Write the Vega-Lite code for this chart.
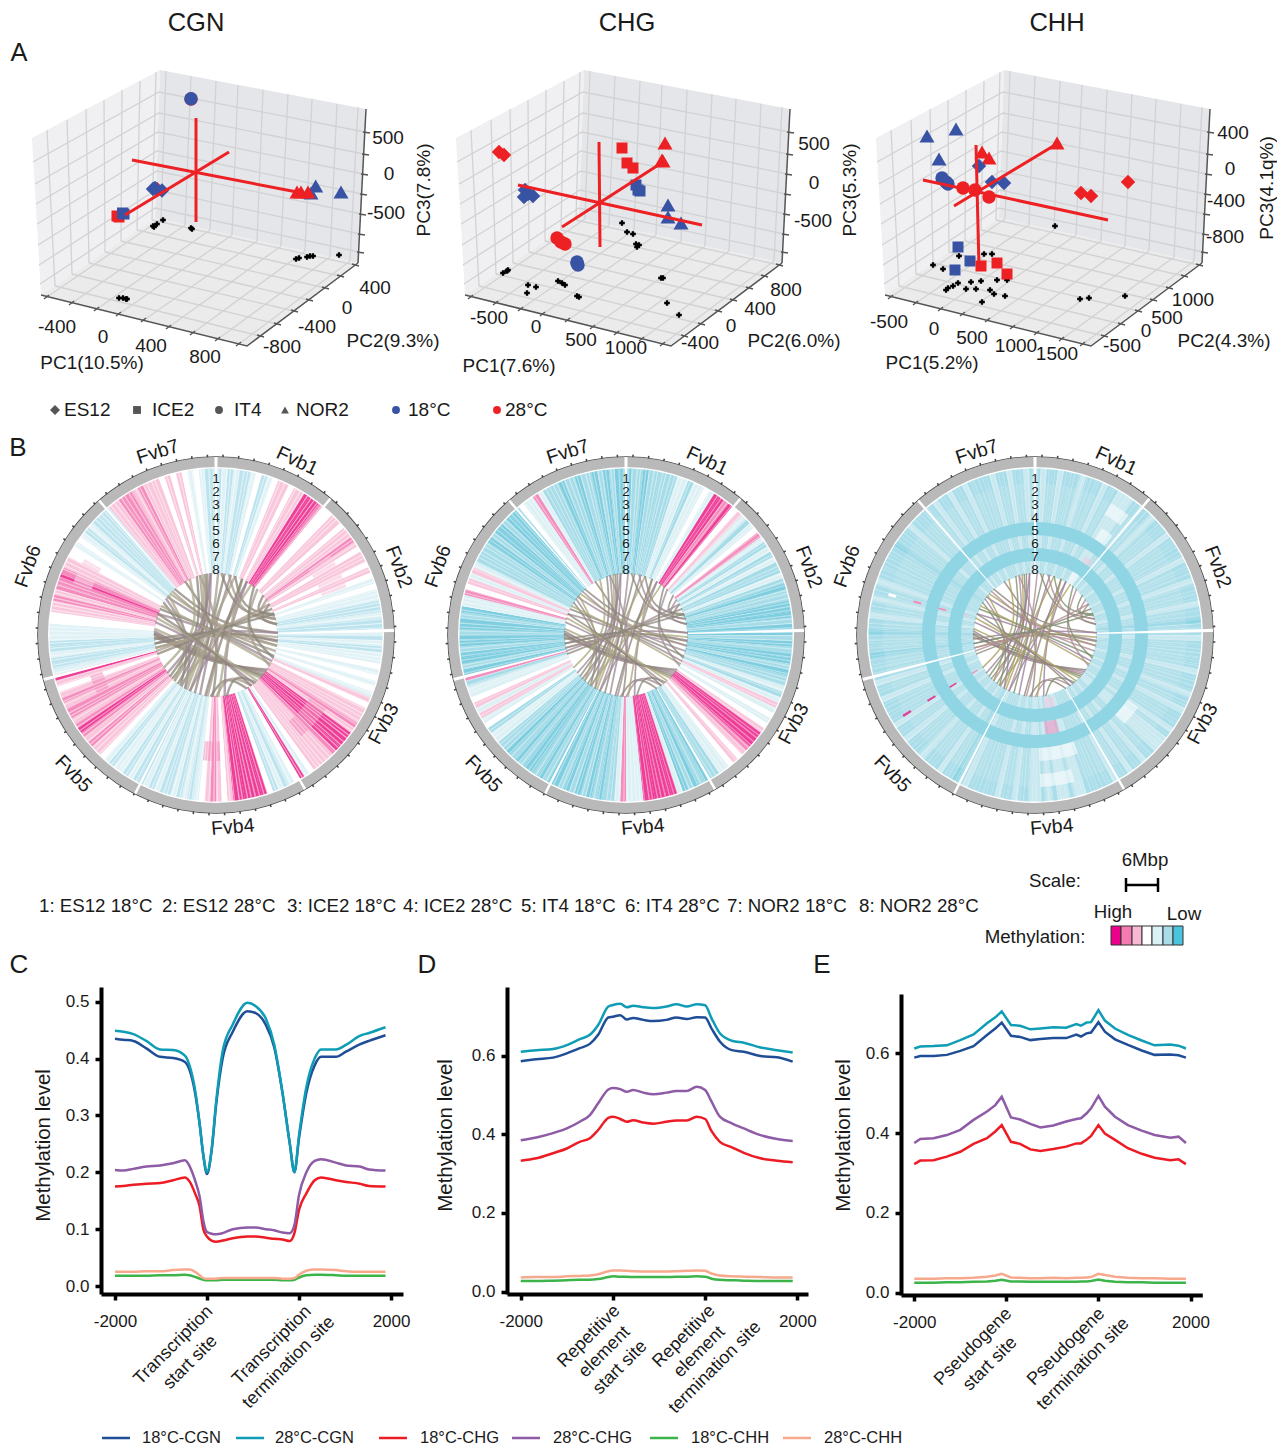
{"$schema":"https://vega.github.io/schema/vega-lite/v6.json","padding":0,"background":"white","config":{"view":{"stroke":null},"font":"Liberation Sans","text":{"font":"Liberation Sans","color":"#1a1a1a"}},
"columns":6,"align":"each","bounds":"flush","spacing":0,"center":false,
"resolve":{"scale":{"color":"independent","stroke":"independent","size":"independent","shape":"independent"}},
"datasets":{
"wl":[{"x":[32,160,155,41],"y":[138,70,218,295]}],
"wr":[{"x":[160,366,358,155],"y":[70,109,263,218]}],
"fl":[{"x":[41,155,358,247],"y":[295,218,263,346]}],
"grid":[{"g":1,"x":[47,55],"y":[130,286]},{"g":2,"x":[67,72],"y":[120,274]},{"g":3,"x":[86,89],"y":[109,263]},{"g":4,"x":[104,105],"y":[100,252]},{"g":5,"x":[122,121],"y":[90,241]},{"g":6,"x":[140,137],"y":[81,230]},{"g":7,"x":[156,152],"y":[72,220]},{"g":8,"x":[166,161],"y":[71,219]},{"g":9,"x":[191,185],"y":[76,225]},{"g":10,"x":[216,210],"y":[81,230]},{"g":11,"x":[238,232],"y":[85,235]},{"g":12,"x":[263,257],"y":[90,241]},{"g":13,"x":[288,281],"y":[94,246]},{"g":14,"x":[312,305],"y":[99,251]},{"g":15,"x":[337,330],"y":[104,257]},{"g":16,"x":[358,350],"y":[107,261]},{"g":17,"x":[40,155,359],"y":[284,208,252]},{"g":18,"x":[39,156,360],"y":[265,190,234]},{"g":19,"x":[38,157,361],"y":[245,171,214]},{"g":20,"x":[37,157,362],"y":[224,151,194]},{"g":21,"x":[36,158,363],"y":[204,132,174]},{"g":22,"x":[35,159,364],"y":[184,113,154]},{"g":23,"x":[33,159,365],"y":[162,92,132]},{"g":24,"x":[161,47],"y":[219,297]},{"g":25,"x":[185,72],"y":[225,303]},{"g":26,"x":[210,97],"y":[230,309]},{"g":27,"x":[232,119],"y":[235,314]},{"g":28,"x":[257,144],"y":[241,320]},{"g":29,"x":[281,169],"y":[246,327]},{"g":30,"x":[305,193],"y":[251,333]},{"g":31,"x":[330,218],"y":[257,339]},{"g":32,"x":[350,239],"y":[261,344]},{"g":33,"x":[55,260],"y":[286,336]},{"g":34,"x":[72,277],"y":[274,324]},{"g":35,"x":[89,294],"y":[263,311]},{"g":36,"x":[105,309],"y":[252,300]},{"g":37,"x":[121,325],"y":[241,288]},{"g":38,"x":[137,340],"y":[230,276]},{"g":39,"x":[152,355],"y":[220,265]}],
"ax":[{"g":1,"x":[41,247,358],"y":[295,346,263]},{"g":2,"x":[358,366],"y":[263,109]},{"g":3,"x":[44,49],"y":[299,295]},{"g":4,"x":[69,74],"y":[305,301]},{"g":5,"x":[94,99],"y":[311,307]},{"g":6,"x":[116,121],"y":[316,312]},{"g":7,"x":[141,146],"y":[322,318]},{"g":8,"x":[166,171],"y":[329,325]},{"g":9,"x":[190,195],"y":[335,331]},{"g":10,"x":[215,220],"y":[341,337]},{"g":11,"x":[236,241],"y":[346,342]},{"g":12,"x":[257,264],"y":[335,337]},{"g":13,"x":[274,281],"y":[323,325]},{"g":14,"x":[291,298],"y":[310,312]},{"g":15,"x":[306,313],"y":[299,301]},{"g":16,"x":[322,329],"y":[287,289]},{"g":17,"x":[337,344],"y":[275,277]},{"g":18,"x":[352,359],"y":[264,266]},{"g":19,"x":[357,364],"y":[252,253]},{"g":20,"x":[358,365],"y":[234,235]},{"g":21,"x":[359,366],"y":[214,215]},{"g":22,"x":[360,367],"y":[194,195]},{"g":23,"x":[361,368],"y":[174,175]},{"g":24,"x":[362,369],"y":[154,155]},{"g":25,"x":[363,370],"y":[132,133]}],
"sp":[{"a":0,"p":-2,"q":-3,"r":-2},{"a":2,"p":-1,"q":-2,"r":-1},{"a":4,"p":-2,"q":-2,"r":-2},{"a":6,"p":-1,"q":-3,"r":-2},{"a":8,"p":-2,"q":-2,"r":-1},{"a":10,"p":-2,"q":-2,"r":-2},{"a":12,"p":-1,"q":-2,"r":-2},{"a":14,"p":0,"q":-2,"r":-2},{"a":16,"p":-2,"q":-2,"r":-1},{"a":18,"p":-1,"q":-1,"r":-2},
{"a":20,"p":0,"q":-1,"r":-2},{"a":22,"p":1,"q":-2,"r":-2},{"a":24,"p":1,"q":-1,"r":-1},{"a":26,"p":0,"q":-1,"r":-2},{"a":28,"p":1,"q":0,"r":-2},{"a":30,"p":1,"q":-1,"r":-1},{"a":32,"p":3,"q":3,"r":-1},{"a":34,"p":3,"q":3,"r":-1},{"a":36,"p":3,"q":2,"r":-2},{"a":38,"p":2,"q":3,"r":-2},
{"a":40,"p":0,"q":0,"r":-2},{"a":42,"p":0,"q":1,"r":-2},{"a":44,"p":1,"q":-1,"r":-1},{"a":46,"p":1,"q":-2,"r":-2},{"a":48,"p":0,"q":-1,"r":-2},{"a":50,"p":1,"q":0,"r":-2},{"a":52,"p":1,"q":2,"r":-1},{"a":54,"p":2,"q":-1,"r":-2},{"a":56,"p":1,"q":-2,"r":-2},{"a":58,"p":0,"q":-1,"r":-2},
{"a":60,"p":1,"q":-2,"r":-2},{"a":62,"p":1,"q":-1,"r":-1},{"a":64,"p":0,"q":-2,"r":-2},{"a":66,"p":1,"q":-2,"r":-2},{"a":68,"p":0,"q":-1,"r":-2},{"a":70,"p":-1,"q":-2,"r":-1},{"a":72,"p":0,"q":-3,"r":-2},{"a":74,"p":-1,"q":-2,"r":-2},{"a":76,"p":-1,"q":-2,"r":-2},{"a":78,"p":-2,"q":-3,"r":-1},
{"a":80,"p":-2,"q":-3,"r":-2},{"a":82,"p":-1,"q":-3,"r":-2},{"a":84,"p":-2,"q":-2,"r":-3},{"a":86,"p":-2,"q":-3,"r":-2},{"a":88,"p":-1,"q":-3,"r":-2},{"a":90,"p":-2,"q":-2,"r":-1},{"a":92,"p":-1,"q":-3,"r":-2},{"a":94,"p":-2,"q":-2,"r":-2},{"a":96,"p":-1,"q":-3,"r":-2},{"a":98,"p":-1,"q":-3,"r":-2},
{"a":100,"p":0,"q":-2,"r":-2},{"a":102,"p":-1,"q":-3,"r":-1},{"a":104,"p":0,"q":-2,"r":-2},{"a":106,"p":-1,"q":-2,"r":-2},{"a":108,"p":0,"q":-1,"r":-2},{"a":110,"p":-1,"q":-2,"r":-1},{"a":112,"p":1,"q":-1,"r":-2},{"a":114,"p":0,"q":1,"r":-2},{"a":116,"p":1,"q":-1,"r":-1},{"a":118,"p":1,"q":0,"r":-2},
{"a":120,"p":1,"q":-1,"r":-2},{"a":122,"p":2,"q":0,"r":-2},{"a":124,"p":1,"q":1,"r":-1},{"a":126,"p":3,"q":3,"r":-2},{"a":128,"p":3,"q":3,"r":-1},{"a":130,"p":3,"q":3,"r":-1},{"a":132,"p":3,"q":2,"r":-1},{"a":134,"p":2,"q":1,"r":-2},{"a":136,"p":1,"q":0,"r":-2},{"a":138,"p":1,"q":1,"r":-1},
{"a":140,"p":1,"q":0,"r":-2},{"a":142,"p":1,"q":-1,"r":-2},{"a":144,"p":0,"q":-1,"r":-1},{"a":146,"p":-1,"q":-2,"r":-2},{"a":148,"p":3,"q":-2,"r":-2},{"a":150,"p":0,"q":-3,"r":-1},{"a":152,"p":-1,"q":-2,"r":-2},{"a":154,"p":-2,"q":-3,"r":-2},{"a":156,"p":-1,"q":-2,"r":-2},{"a":158,"p":-2,"q":-3,"r":-2},
{"a":160,"p":0,"q":-1,"r":-2},{"a":162,"p":3,"q":3,"r":-1},{"a":164,"p":3,"q":3,"r":-1},{"a":166,"p":3,"q":3,"r":-2},{"a":168,"p":3,"q":3,"r":-1},{"a":170,"p":3,"q":3,"r":-1},{"a":172,"p":3,"q":3,"r":-2},{"a":174,"p":1,"q":-1,"r":-1},{"a":176,"p":0,"q":-1,"r":-2},{"a":178,"p":1,"q":-1,"r":-1},
{"a":180,"p":2,"q":2,"r":-1},{"a":182,"p":1,"q":-1,"r":-2},{"a":184,"p":0,"q":-2,"r":-2},{"a":186,"p":-1,"q":-2,"r":-1},{"a":188,"p":-2,"q":-3,"r":-2},{"a":190,"p":-1,"q":-2,"r":-2},{"a":192,"p":-2,"q":-3,"r":-1},{"a":194,"p":-1,"q":-2,"r":-2},{"a":196,"p":-2,"q":-3,"r":-2},{"a":198,"p":-2,"q":-2,"r":-2},
{"a":200,"p":-1,"q":-3,"r":-2},{"a":202,"p":-2,"q":-2,"r":-2},{"a":204,"p":-1,"q":-3,"r":-1},{"a":206,"p":-2,"q":-3,"r":-2},{"a":208,"p":-2,"q":-2,"r":-3},{"a":210,"p":-1,"q":-3,"r":-2},{"a":212,"p":-2,"q":-2,"r":-2},{"a":214,"p":-1,"q":-3,"r":-1},{"a":216,"p":-1,"q":-3,"r":-2},{"a":218,"p":-2,"q":-2,"r":-2},
{"a":220,"p":-1,"q":-3,"r":-2},{"a":222,"p":0,"q":-2,"r":-1},{"a":224,"p":1,"q":-3,"r":-2},{"a":226,"p":1,"q":-2,"r":-2},{"a":228,"p":2,"q":-2,"r":-2},{"a":230,"p":1,"q":-1,"r":-1},{"a":232,"p":2,"q":-1,"r":-2},{"a":234,"p":3,"q":-2,"r":-2},{"a":236,"p":2,"q":0,"r":-1},{"a":238,"p":1,"q":-1,"r":-2},
{"a":240,"p":2,"q":1,"r":-2},{"a":242,"p":2,"q":-1,"r":-2},{"a":244,"p":1,"q":1,"r":-2},{"a":246,"p":2,"q":0,"r":-1},{"a":248,"p":1,"q":-1,"r":-2},{"a":250,"p":0,"q":-1,"r":-2},{"a":252,"p":1,"q":-2,"r":-1},{"a":254,"p":3,"q":2,"r":-2},{"a":256,"p":-1,"q":-3,"r":-2},{"a":258,"p":-2,"q":-2,"r":-2},
{"a":260,"p":-2,"q":-3,"r":-2},{"a":262,"p":-1,"q":-3,"r":-3},{"a":264,"p":-2,"q":-2,"r":-2},{"a":266,"p":-2,"q":-3,"r":-2},{"a":268,"p":-1,"q":-3,"r":-2},{"a":270,"p":-1,"q":-2,"r":-3},{"a":272,"p":-1,"q":-3,"r":-2},{"a":274,"p":0,"q":-3,"r":-2},{"a":276,"p":0,"q":-2,"r":-1},{"a":278,"p":1,"q":-3,"r":-2},
{"a":280,"p":1,"q":-1,"r":-2},{"a":282,"p":2,"q":-1,"r":-1},{"a":284,"p":1,"q":2,"r":-2},{"a":286,"p":2,"q":0,"r":-2},{"a":288,"p":2,"q":1,"r":-1},{"a":290,"p":3,"q":-1,"r":-2},{"a":292,"p":2,"q":1,"r":-2},{"a":294,"p":1,"q":-1,"r":-2},{"a":296,"p":1,"q":-2,"r":-2},{"a":298,"p":0,"q":-2,"r":-2},
{"a":300,"p":0,"q":-2,"r":-2},{"a":302,"p":-1,"q":-2,"r":-3},{"a":304,"p":0,"q":-3,"r":-2},{"a":306,"p":-1,"q":-2,"r":-2},{"a":308,"p":-2,"q":-3,"r":-2},{"a":310,"p":-1,"q":-3,"r":-1},{"a":312,"p":-2,"q":-2,"r":-2},{"a":314,"p":-2,"q":-3,"r":-2},{"a":316,"p":-2,"q":-3,"r":-2},{"a":318,"p":-2,"q":-3,"r":-2},
{"a":320,"p":1,"q":0,"r":-2},{"a":322,"p":1,"q":-1,"r":-1},{"a":324,"p":2,"q":-1,"r":-2},{"a":326,"p":2,"q":2,"r":-2},{"a":328,"p":2,"q":-1,"r":-1},{"a":330,"p":1,"q":-2,"r":-2},{"a":332,"p":2,"q":-2,"r":-2},{"a":334,"p":1,"q":-2,"r":-1},{"a":336,"p":1,"q":-3,"r":-2},{"a":338,"p":1,"q":-2,"r":-2},
{"a":340,"p":0,"q":-2,"r":-2},{"a":342,"p":1,"q":-3,"r":-2},{"a":344,"p":0,"q":-2,"r":-1},{"a":346,"p":1,"q":-2,"r":-2},{"a":348,"p":0,"q":-3,"r":-2},{"a":350,"p":-1,"q":-2,"r":-1},{"a":352,"p":0,"q":-3,"r":-2},{"a":354,"p":-1,"q":-2,"r":-2},{"a":356,"p":-2,"q":-3,"r":-1},{"a":358,"p":-2,"q":-3,"r":-2}],
"st":[{"a":[0.7,1.9,3.6,4.8,6.7,7.9,9.5,10.8,12.6,13.7,15.4,16.9,18.3,19.6,21.4,22.5,24.2,25.8,27.1,28.4,30.2,31.4,33.1,34.6,35.9,37.2,39,40.3,41.9,43.4,44.7,46,47.8,49,50.6,52.1,53.4,54.9,56.6,57.8,59.5,61,62.3,63.6,65.4,66.6,68.2,69.7,71.1,72.4,74.2,75.3,77,78.6,79.9,81.2,83,84.2,85.8,87.3,88.6,90,91.7,92.9,94.6,96.1,97.4,98.7,100.5,101.7,103.3,104.8,106.1,107.5,109.2,110.4,112.1,113.6,114.9,116.2,118,119.2,120.8,122.3,123.7,125,126.8,128,129.6,131.1,132.4,133.8,135.5,136.7,138.4,139.9,141.2,142.5,144.3,145.5,147.1,148.6,150,151.3,153,154.2,155.9,157.4,158.7,160,161.8,163,164.6,166.1,167.5,168.8,170.6,171.7,173.4,174.9,176.2,177.6,179.3,180.5,182.2,183.7,185,186.4,188.1,189.3,190.9,192.4,193.8,195.1,196.9,198.1,199.7,201.2,202.5,203.8,205.6,206.8,208.4,209.9,211.3,212.6,214.4,215.5,217.2,218.7,220,221.4,223.1,224.3,225.9,227.4,228.8,230.1,231.9,233.1,234.7,236.2,237.5,238.9,240.6,241.8,243.5,245,246.3,247.6,249.4,250.6,252.2,253.7,255.1,256.4,258.2,259.3,261,262.5,263.8,265.2,266.9,268.1,269.7,271.2,272.6,273.9,275.7,276.9,278.5,280,281.3,282.7,284.4,285.6,287.3,288.8,290.1,291.4,293.2,294.4,296,297.5,298.9,300.2,302,303.1,304.8,306.3,307.6,309,310.7,311.9,313.5,315,316.4,317.7,319.5,320.6,322.3,323.8,325.1,326.5,328.2,329.4,331,332.5,333.9,335.2,337,338.2,339.8,341.3,342.6,344,345.7,346.9,348.6,350.1,351.4,352.7,354.5,355.6,357.3,358.8]}],
"gaps":[{"a":359.5,"b":360},{"a":0,"b":0.5},{"a":39.6,"b":40.4},{"a":88,"b":89},{"a":149.6,"b":150.4},{"a":206.6,"b":207.4},{"a":255,"b":256},{"a":318.6,"b":319.4}],
"ring":[{"a":0,"b":360}],
"tk":[{"a":[2,7,12,17,22,27,32,37,42,47,52,57,62,67,72,77,82,87,92,97,102,107,112,117,122,127,132,137,142,147,152,157,162,167,172,177,182,187,192,197,202,207,212,217,222,227,232,237,242,247,252,257,262,267,272,277,282,287,292,297,302,307,312,317,322,327,332,337,342,347,352,357]}],
"labs":[{"t":"Fvb1","a":25,"e":-2.08},{"t":"Fvb2","a":69.6,"e":-2.31},{"t":"Fvb3","a":117.9,"e":-1.92},{"t":"Fvb4","a":175,"e":-2.15},{"t":"Fvb5","a":225.8,"e":-2.62},{"t":"Fvb6","a":290.1,"e":-2.69},{"t":"Fvb7","a":342.4,"e":-2.08}],
"nums":[{"t":"1","a":0,"e":0.69},{"t":"2","a":0,"e":1.69},{"t":"3","a":0,"e":2.69},{"t":"4","a":0,"e":3.69},{"t":"5","a":0,"e":4.69},{"t":"6","a":0,"e":5.69},{"t":"7","a":0,"e":6.69},{"t":"8","a":0,"e":7.69}],
"ch":[{"c":1,"k":0,"a":[268,199,130],"r":[62,24,62]},{"c":2,"k":1,"a":[270,199,128],"r":[62,26,62]},{"c":3,"k":2,"a":[272,202,132],"r":[62,22,62]},{"c":4,"k":3,"a":[274,200,126],"r":[62,28,62]},{"c":5,"k":4,"a":[276,205,134],"r":[62,20,62]},{"c":6,"k":0,"a":[271,198,124],"r":[62,30,62]},{"c":7,"k":1,"a":[345,283,222],"r":[62,10,62]},{"c":8,"k":2,"a":[350,284,218],"r":[62,8,62]},{"c":9,"k":3,"a":[355,285,214],"r":[62,6,62]},{"c":10,"k":4,"a":[348,279,210],"r":[62,10,62]},{"c":11,"k":0,"a":[352,288,225],"r":[62,8,62]},{"c":12,"k":1,"a":[2,290,205],"r":[62,4,62]},{"c":13,"k":2,"a":[8,284,200],"r":[62,6,62]},{"c":14,"k":3,"a":[14,284,195],"r":[62,4,62]},{"c":15,"k":4,"a":[18,293,208],"r":[62,8,62]},{"c":16,"k":0,"a":[5,40,75],"r":[62,30,62]},{"c":17,"k":1,"a":[12,46,80],"r":[62,32,62]},{"c":18,"k":2,"a":[18,45,72],"r":[62,36,62]},{"c":19,"k":3,"a":[308,20,95],"r":[62,6,62]},{"c":20,"k":4,"a":[312,26,100],"r":[62,8,62]},{"c":21,"k":0,"a":[318,23,88],"r":[62,10,62]},{"c":22,"k":1,"a":[315,30,105],"r":[62,4,62]},{"c":23,"k":2,"a":[302,258,215],"r":[62,24,62]},{"c":24,"k":3,"a":[306,258,210],"r":[62,22,62]},{"c":25,"k":4,"a":[310,266,222],"r":[62,24,62]},{"c":26,"k":0,"a":[60,70,80],"r":[62,44,62]},{"c":27,"k":1,"a":[55,65,75],"r":[62,44,62]},{"c":28,"k":2,"a":[50,60,70],"r":[62,44,62]},{"c":29,"k":3,"a":[88,355,262],"r":[62,6,62]},{"c":30,"k":4,"a":[92,357,258],"r":[62,4,62]},{"c":31,"k":0,"a":[96,1,266],"r":[62,6,62]},{"c":32,"k":1,"a":[100,358,255],"r":[62,6,62]},{"c":33,"k":2,"a":[110,22,295],"r":[62,4,62]},{"c":34,"k":3,"a":[115,23,290],"r":[62,4,62]},{"c":35,"k":4,"a":[118,28,298],"r":[62,2,62]},{"c":36,"k":0,"a":[150,167,185],"r":[62,40,62]},{"c":37,"k":1,"a":[145,162,180],"r":[62,40,62]},{"c":38,"k":2,"a":[140,155,170],"r":[62,42,62]},{"c":39,"k":3,"a":[172,100,30],"r":[62,10,62]},{"c":40,"k":4,"a":[178,100,25],"r":[62,12,62]},{"c":41,"k":0,"a":[183,75,330],"r":[62,6,62]},{"c":42,"k":1,"a":[188,85,345],"r":[62,8,62]},{"c":43,"k":2,"a":[228,285,342],"r":[62,14,62]},{"c":44,"k":3,"a":[232,293,355],"r":[62,12,62]},{"c":45,"k":4,"a":[238,286,335],"r":[62,16,62]},{"c":46,"k":0,"a":[252,338,65],"r":[62,4,62]},{"c":47,"k":1,"a":[258,339,60],"r":[62,2,62]},{"c":48,"k":2,"a":[262,346,70],"r":[62,4,62]},{"c":49,"k":3,"a":[30,118,205],"r":[62,3,62]},{"c":50,"k":4,"a":[35,125,215],"r":[62,2,62]},{"c":51,"k":0,"a":[25,108,190],"r":[62,6,62]},{"c":52,"k":1,"a":[42,81,120],"r":[62,26,62]},{"c":53,"k":2,"a":[38,75,112],"r":[62,28,62]},{"c":54,"k":3,"a":[282,212,142],"r":[62,14,62]},{"c":55,"k":4,"a":[286,212,138],"r":[62,14,62]},{"c":56,"k":0,"a":[290,217,145],"r":[62,14,62]}]
},
"concat":[
{"width":101,"height":425,"encoding":{"x":{"field":"x","type":"quantitative","scale":{"domain":[0,101]},"axis":null},"y":{"field":"y","type":"quantitative","scale":{"domain":[425,0]},"axis":null}},"layer":[
{"data":{"name":"wl"},"transform":[{"flatten":["x","y"]}],"mark":{"type":"line","fill":"#F0F0F2","stroke":null},"encoding":{"order":{"value":null}}},
{"data":{"name":"wr"},"transform":[{"flatten":["x","y"]}],"mark":{"type":"line","fill":"#E5E6E9","stroke":null},"encoding":{"order":{"value":null}}},
{"data":{"name":"fl"},"transform":[{"flatten":["x","y"]}],"mark":{"type":"line","fill":"#EBEBEC","stroke":null},"encoding":{"order":{"value":null}}},
{"data":{"name":"grid"},"transform":[{"flatten":["x","y"]}],"mark":{"type":"line","stroke":"#D2D2D4","strokeWidth":1.3},"encoding":{"detail":{"field":"g"},"order":{"value":null}}},
{"data":{"name":"ax"},"transform":[{"flatten":["x","y"]}],"mark":{"type":"line","stroke":"#555","strokeWidth":1.5},"encoding":{"detail":{"field":"g"},"order":{"value":null}}},
{"data":{"values":[{"x":153,"y":226,"g":"X","s":"k"},{"x":157,"y":224,"g":"X","s":"k"},{"x":163,"y":220,"g":"X","s":"k"},{"x":154,"y":227,"g":"X","s":"k"},{"x":191,"y":228,"g":"X","s":"k"},{"x":192,"y":229,"g":"X","s":"k"},{"x":119,"y":298,"g":"X","s":"k"},{"x":123,"y":298,"g":"X","s":"k"},{"x":126,"y":299,"g":"X","s":"k"},{"x":127,"y":299,"g":"X","s":"k"},{"x":296,"y":259,"g":"X","s":"k"},{"x":299,"y":258,"g":"X","s":"k"},{"x":307,"y":257,"g":"X","s":"k"},{"x":310,"y":256,"g":"X","s":"k"},{"x":313,"y":256,"g":"X","s":"k"},{"x":339,"y":255,"g":"X","s":"k"},
{"x":191,"y":99,"g":"IT4","s":"28"},{"x":157,"y":189,"g":"ES12","s":"28"},{"x":117,"y":216,"g":"ICE2","s":"28"},{"x":119,"y":217,"g":"ICE2","s":"28"},{"x":315.7,"y":186,"g":"NOR2","s":"18"},{"x":341,"y":192,"g":"NOR2","s":"18"},{"x":311,"y":193,"g":"NOR2","s":"18"},{"x":297,"y":192,"g":"NOR2","s":"28"},{"x":301,"y":192,"g":"NOR2","s":"28"},{"x":308,"y":192,"g":"NOR2","s":"28"},{"x":191,"y":98.7,"g":"IT4","s":"18"},{"x":162,"y":190.5,"g":"ES12","s":"18"},{"x":153,"y":189,"g":"ES12","s":"18"},{"x":155,"y":188,"g":"ES12","s":"18"},{"x":124,"y":214,"g":"ICE2","s":"18"},{"x":122.5,"y":213,"g":"ICE2","s":"18"}]},"mark":{"type":"point","filled":true,"opacity":1},"encoding":{"shape":{"field":"g","scale":{"domain":["ES12","ICE2","IT4","NOR2","X"],"range":["diamond","square","circle","triangle-up","cross"]},"legend":null},"size":{"field":"g","scale":{"type":"ordinal","domain":["ES12","ICE2","IT4","NOR2","X"],"range":[210,121,180,225,32]},"legend":null},"color":{"field":"s","scale":{"domain":["18","28","k","g"],"range":["#3953A4","#ED2024","#000000","#555555"]},"legend":null},"order":{"value":null}}},
{"data":{"values":[{"g":1,"x":[196,196],"y":[118,222]},{"g":2,"x":[132,297],"y":[160,192]},{"g":3,"x":[229,125],"y":[152,215]}]},"transform":[{"flatten":["x","y"]}],"mark":{"type":"line","stroke":"#ED2024","strokeWidth":3},"encoding":{"detail":{"field":"g"},"order":{"value":null}}},
{"data":{"values":[{"x":55,"y":410,"g":"ES12","s":"g"}]},"mark":{"type":"point","filled":true,"opacity":1,"size":100},"encoding":{"shape":{"field":"g","scale":{"domain":["ES12","ICE2","IT4","NOR2","X"],"range":["diamond","square","circle","triangle-up","cross"]},"legend":null},"color":{"field":"s","scale":{"domain":["18","28","k","g"],"range":["#3953A4","#ED2024","#000000","#555555"]},"legend":null}}},
{"data":{"values":[{"x":137,"y":410,"g":"ICE2","s":"g"},{"x":219,"y":410,"g":"IT4","s":"g"},{"x":285,"y":410,"g":"NOR2","s":"g"},{"x":396,"y":410,"g":"IT4","s":"18"},{"x":497,"y":410,"g":"IT4","s":"28"}]},"mark":{"type":"point","filled":true,"opacity":1,"size":62},"encoding":{"shape":{"field":"g","scale":{"domain":["ES12","ICE2","IT4","NOR2","X"],"range":["diamond","square","circle","triangle-up","cross"]},"legend":null},"color":{"field":"s","scale":{"domain":["18","28","k","g"],"range":["#3953A4","#ED2024","#000000","#555555"]},"legend":null}}},
{"data":{"values":[{"x":64,"y":410,"t":"ES12"},{"x":152,"y":410,"t":"ICE2"},{"x":234,"y":410,"t":"IT4"},{"x":296,"y":410,"t":"NOR2"},{"x":408,"y":410,"t":"18°C"},{"x":505,"y":410,"t":"28°C"}]},"mark":{"type":"text","fontSize":19,"align":"left","baseline":"middle"},"encoding":{"text":{"field":"t"}}},
{"data":{"values":[{"x":388,"y":138,"t":"500"},{"x":389,"y":174,"t":"0"},{"x":386,"y":213,"t":"-500"},{"x":57,"y":327,"t":"-400"},{"x":103,"y":337,"t":"0"},{"x":151,"y":346,"t":"400"},{"x":205,"y":357,"t":"800"},{"x":92,"y":363,"t":"PC1(10.5%)"},{"x":375,"y":288,"t":"400"},{"x":347,"y":308,"t":"0"},{"x":317,"y":327,"t":"-400"},{"x":282,"y":347,"t":"-800"},{"x":393,"y":341,"t":"PC2(9.3%)"}]},"mark":{"type":"text","fontSize":19,"align":"center","baseline":"middle"},"encoding":{"text":{"field":"t"}}},
{"data":{"values":[{"x":424,"y":190,"t":"PC3(7.8%)"}]},"mark":{"type":"text","fontSize":19,"angle":270,"align":"center","baseline":"middle"},"encoding":{"text":{"field":"t"}}},
{"data":{"values":[{"x":196,"y":23,"t":"CGN"},{"x":19,"y":53,"t":"A"}]},"mark":{"type":"text","fontSize":25.5,"align":"center","baseline":"middle"},"encoding":{"text":{"field":"t"}}}
]},
{"width":1,"height":1,"data":{"values":[]},"mark":"point"},
{"width":104,"height":425,"encoding":{"x":{"field":"x","type":"quantitative","scale":{"domain":[0,104],"range":[21,125]},"axis":null},"y":{"field":"y","type":"quantitative","scale":{"domain":[425,0]},"axis":null}},"layer":[
{"data":{"name":"wl"},"transform":[{"flatten":["x","y"]}],"mark":{"type":"line","fill":"#F0F0F2","stroke":null},"encoding":{"order":{"value":null}}},
{"data":{"name":"wr"},"transform":[{"flatten":["x","y"]}],"mark":{"type":"line","fill":"#E5E6E9","stroke":null},"encoding":{"order":{"value":null}}},
{"data":{"name":"fl"},"transform":[{"flatten":["x","y"]}],"mark":{"type":"line","fill":"#EBEBEC","stroke":null},"encoding":{"order":{"value":null}}},
{"data":{"name":"grid"},"transform":[{"flatten":["x","y"]}],"mark":{"type":"line","stroke":"#D2D2D4","strokeWidth":1.3},"encoding":{"detail":{"field":"g"},"order":{"value":null}}},
{"data":{"name":"ax"},"transform":[{"flatten":["x","y"]}],"mark":{"type":"line","stroke":"#555","strokeWidth":1.5},"encoding":{"detail":{"field":"g"},"order":{"value":null}}},
{"data":{"values":[{"x":198,"y":223,"g":"X","s":"k"},{"x":203,"y":232,"g":"X","s":"k"},{"x":209,"y":234,"g":"X","s":"k"},{"x":212,"y":244,"g":"X","s":"k"},{"x":215,"y":245,"g":"X","s":"k"},{"x":213,"y":247,"g":"X","s":"k"},{"x":79,"y":273,"g":"X","s":"k"},{"x":83,"y":271,"g":"X","s":"k"},{"x":84,"y":270,"g":"X","s":"k"},{"x":104,"y":285,"g":"X","s":"k"},{"x":112,"y":287,"g":"X","s":"k"},{"x":103,"y":293,"g":"X","s":"k"},{"x":134,"y":281,"g":"X","s":"k"},{"x":138,"y":283,"g":"X","s":"k"},{"x":141,"y":285,"g":"X","s":"k"},{"x":153,"y":296,"g":"X","s":"k"},{"x":155,"y":297,"g":"X","s":"k"},{"x":237,"y":278,"g":"X","s":"k"},{"x":239,"y":278,"g":"X","s":"k"},{"x":243,"y":303,"g":"X","s":"k"},{"x":255,"y":315,"g":"X","s":"k"},
{"x":75,"y":152,"g":"ES12","s":"28"},{"x":80,"y":155,"g":"ES12","s":"28"},{"x":101,"y":190,"g":"ES12","s":"18"},{"x":100,"y":197,"g":"ES12","s":"18"},{"x":109,"y":196,"g":"ES12","s":"18"},{"x":104,"y":194,"g":"ES12","s":"18"},{"x":133,"y":238,"g":"IT4","s":"28"},{"x":137,"y":242,"g":"IT4","s":"28"},{"x":141,"y":244,"g":"IT4","s":"28"},{"x":153,"y":262,"g":"IT4","s":"18"},{"x":154,"y":265,"g":"IT4","s":"18"},{"x":153,"y":263,"g":"IT4","s":"18"},{"x":198,"y":148,"g":"ICE2","s":"28"},{"x":203,"y":163,"g":"ICE2","s":"28"},{"x":209,"y":168,"g":"ICE2","s":"28"},{"x":212,"y":185,"g":"ICE2","s":"18"},{"x":214,"y":190,"g":"ICE2","s":"18"},{"x":216,"y":191,"g":"ICE2","s":"18"},{"x":241,"y":143,"g":"NOR2","s":"28"},{"x":238,"y":160,"g":"NOR2","s":"28"},{"x":239,"y":161,"g":"NOR2","s":"28"},{"x":244,"y":205,"g":"NOR2","s":"18"},{"x":244,"y":217,"g":"NOR2","s":"18"},{"x":257,"y":223,"g":"NOR2","s":"18"}]},"mark":{"type":"point","filled":true,"opacity":1},"encoding":{"shape":{"field":"g","scale":{"domain":["ES12","ICE2","IT4","NOR2","X"],"range":["diamond","square","circle","triangle-up","cross"]},"legend":null},"size":{"field":"g","scale":{"type":"ordinal","domain":["ES12","ICE2","IT4","NOR2","X"],"range":[210,121,180,225,32]},"legend":null},"color":{"field":"s","scale":{"domain":["18","28","k","g"],"range":["#3953A4","#ED2024","#000000","#555555"]},"legend":null},"order":{"value":null}}},
{"data":{"values":[{"g":1,"x":[175,176],"y":[142,247]},{"g":2,"x":[94,278],"y":[185,225]},{"g":3,"x":[138,239],"y":[227,162]}]},"transform":[{"flatten":["x","y"]}],"mark":{"type":"line","stroke":"#ED2024","strokeWidth":3},"encoding":{"detail":{"field":"g"},"order":{"value":null}}},
{"data":{"values":[{"x":390,"y":144,"t":"500"},{"x":390,"y":183,"t":"0"},{"x":389,"y":221,"t":"-500"},{"x":65,"y":318,"t":"-500"},{"x":112,"y":327,"t":"0"},{"x":157,"y":340,"t":"500"},{"x":202,"y":348,"t":"1000"},{"x":85,"y":366,"t":"PC1(7.6%)"},{"x":362,"y":290,"t":"800"},{"x":336,"y":309,"t":"400"},{"x":307,"y":326,"t":"0"},{"x":276,"y":343,"t":"-400"},{"x":370,"y":341,"t":"PC2(6.0%)"}]},"mark":{"type":"text","fontSize":19,"align":"center","baseline":"middle"},"encoding":{"text":{"field":"t"}}},
{"data":{"values":[{"x":426,"y":190,"t":"PC3(5.3%)"}]},"mark":{"type":"text","fontSize":19,"angle":270,"align":"center","baseline":"middle"},"encoding":{"text":{"field":"t"}}},
{"data":{"values":[{"x":203,"y":23,"t":"CHG"}]},"mark":{"type":"text","fontSize":25.5,"align":"center","baseline":"middle"},"encoding":{"text":{"field":"t"}}}
]},
{"width":1,"height":1,"data":{"values":[]},"mark":"point"},
{"width":92.7,"height":425,"encoding":{"x":{"field":"x","type":"quantitative","scale":{"domain":[0,92.7],"range":[36,128.7]},"axis":null},"y":{"field":"y","type":"quantitative","scale":{"domain":[425,0]},"axis":null}},"layer":[
{"data":{"name":"wl"},"transform":[{"flatten":["x","y"]}],"mark":{"type":"line","fill":"#F0F0F2","stroke":null},"encoding":{"order":{"value":null}}},
{"data":{"name":"wr"},"transform":[{"flatten":["x","y"]}],"mark":{"type":"line","fill":"#E5E6E9","stroke":null},"encoding":{"order":{"value":null}}},
{"data":{"name":"fl"},"transform":[{"flatten":["x","y"]}],"mark":{"type":"line","fill":"#EBEBEC","stroke":null},"encoding":{"order":{"value":null}}},
{"data":{"name":"grid"},"transform":[{"flatten":["x","y"]}],"mark":{"type":"line","stroke":"#D2D2D4","strokeWidth":1.3},"encoding":{"detail":{"field":"g"},"order":{"value":null}}},
{"data":{"name":"ax"},"transform":[{"flatten":["x","y"]}],"mark":{"type":"line","stroke":"#555","strokeWidth":1.5},"encoding":{"detail":{"field":"g"},"order":{"value":null}}},
{"data":{"values":[{"x":211,"y":226,"g":"X","s":"k"},{"x":140,"y":254,"g":"X","s":"k"},{"x":148,"y":254,"g":"X","s":"k"},{"x":115,"y":256,"g":"X","s":"k"},{"x":89,"y":265,"g":"X","s":"k"},{"x":99,"y":269,"g":"X","s":"k"},{"x":137,"y":281,"g":"X","s":"k"},{"x":153,"y":280,"g":"X","s":"k"},{"x":163,"y":280,"g":"X","s":"k"},{"x":127,"y":282,"g":"X","s":"k"},{"x":114,"y":283,"g":"X","s":"k"},{"x":109,"y":286,"g":"X","s":"k"},{"x":104,"y":288,"g":"X","s":"k"},{"x":102,"y":290,"g":"X","s":"k"},{"x":122,"y":289,"g":"X","s":"k"},{"x":132,"y":289,"g":"X","s":"k"},{"x":146,"y":290,"g":"X","s":"k"},{"x":150,"y":294,"g":"X","s":"k"},{"x":161,"y":296,"g":"X","s":"k"},{"x":138,"y":302,"g":"X","s":"k"},{"x":236,"y":299,"g":"X","s":"k"},{"x":245,"y":298,"g":"X","s":"k"},{"x":281,"y":296,"g":"X","s":"k"},
{"x":83,"y":136,"g":"NOR2","s":"18"},{"x":112,"y":129,"g":"NOR2","s":"18"},{"x":95,"y":159,"g":"NOR2","s":"18"},{"x":138,"y":152,"g":"NOR2","s":"28"},{"x":145,"y":158,"g":"NOR2","s":"28"},{"x":213,"y":143,"g":"NOR2","s":"28"},{"x":135,"y":166,"g":"ES12","s":"18"},{"x":148,"y":182,"g":"ES12","s":"18"},{"x":160,"y":183,"g":"ES12","s":"18"},{"x":237,"y":193,"g":"ES12","s":"28"},{"x":247,"y":196,"g":"ES12","s":"28"},{"x":284,"y":182,"g":"ES12","s":"28"},{"x":98,"y":178,"g":"IT4","s":"18"},{"x":102,"y":182,"g":"IT4","s":"18"},{"x":104,"y":184,"g":"IT4","s":"18"},{"x":119,"y":188,"g":"IT4","s":"28"},{"x":131,"y":190,"g":"IT4","s":"28"},{"x":145,"y":197,"g":"IT4","s":"28"},{"x":114,"y":247,"g":"ICE2","s":"18"},{"x":126,"y":261,"g":"ICE2","s":"18"},{"x":111,"y":270,"g":"ICE2","s":"18"},{"x":137,"y":266,"g":"ICE2","s":"28"},{"x":153,"y":263,"g":"ICE2","s":"28"},{"x":163,"y":274,"g":"ICE2","s":"28"}]},"mark":{"type":"point","filled":true,"opacity":1},"encoding":{"shape":{"field":"g","scale":{"domain":["ES12","ICE2","IT4","NOR2","X"],"range":["diamond","square","circle","triangle-up","cross"]},"legend":null},"size":{"field":"g","scale":{"type":"ordinal","domain":["ES12","ICE2","IT4","NOR2","X"],"range":[210,121,180,225,32]},"legend":null},"color":{"field":"s","scale":{"domain":["18","28","k","g"],"range":["#3953A4","#ED2024","#000000","#555555"]},"legend":null},"order":{"value":null}}},
{"data":{"values":[{"g":1,"x":[132,135],"y":[145,267]},{"g":2,"x":[79,264],"y":[180,220]},{"g":3,"x":[110,216],"y":[206,142]}]},"transform":[{"flatten":["x","y"]}],"mark":{"type":"line","stroke":"#ED2024","strokeWidth":3},"encoding":{"detail":{"field":"g"},"order":{"value":null}}},
{"data":{"values":[{"x":389,"y":133,"t":"400"},{"x":386,"y":169,"t":"0"},{"x":382,"y":201,"t":"-400"},{"x":381,"y":237,"t":"-800"},{"x":45,"y":322,"t":"-500"},{"x":90,"y":329,"t":"0"},{"x":128,"y":338,"t":"500"},{"x":172,"y":346,"t":"1000"},{"x":213,"y":354,"t":"1500"},{"x":88,"y":363,"t":"PC1(5.2%)"},{"x":349,"y":300,"t":"1000"},{"x":323,"y":318,"t":"500"},{"x":302,"y":331,"t":"0"},{"x":278,"y":346,"t":"-500"},{"x":380,"y":341,"t":"PC2(4.3%)"}]},"mark":{"type":"text","fontSize":19,"align":"center","baseline":"middle"},"encoding":{"text":{"field":"t"}}},
{"data":{"values":[{"x":423,"y":188,"t":"PC3(4.1q%)"}]},"mark":{"type":"text","fontSize":19,"angle":270,"align":"center","baseline":"middle"},"encoding":{"text":{"field":"t"}}},
{"data":{"values":[{"x":213,"y":23,"t":"CHH"}]},"mark":{"type":"text","fontSize":25.5,"align":"center","baseline":"middle"},"encoding":{"text":{"field":"t"}}}
]},
{"width":1,"height":1,"data":{"values":[]},"mark":"point"},

{"width":101,"height":416,"layer":[
{"data":{"name":"sp"},"transform":[{"calculate":"datum.a+2.05","as":"b"}],"mark":{"type":"arc","outerRadius":166.5,"innerRadius":61},"encoding":{"x":{"value":216},"y":{"value":210},"theta":{"field":"a","type":"quantitative","scale":{"domain":[0,360]}},"theta2":{"field":"b"},"color":{"field":"p","type":"ordinal","scale":{"domain":[3,2,1,0,-1,-2,-3],"range":["#EE3F98","#F48DBD","#F9C6DC","#FFFFFF","#E0F2F6","#BDE4EE","#94D6E6"]},"legend":null}}},
{"data":{"values":[{"a":178,"b":186,"e":3,"e2":4.5,"v":2},{"a":124,"b":140,"e":2.5,"e2":4,"v":2},{"a":290,"b":300,"e":1,"e2":2.5,"v":1},{"a":55,"b":70,"e":2,"e2":4,"v":1},{"a":240,"b":252,"e":2.5,"e2":3.5,"v":2}]},"mark":{"type":"arc","opacity":0.6},"encoding":{"x":{"value":216},"y":{"value":210},"theta":{"field":"a","type":"quantitative","scale":{"domain":[0,360]}},"theta2":{"field":"b"},"radius":{"field":"e","type":"quantitative","scale":{"type":"linear","domain":[0,8],"range":[165,61],"zero":false}},"radius2":{"field":"e2"},"color":{"field":"v","type":"ordinal","scale":{"domain":[3,2,1,0,-1,-2,-3],"range":["#EE3F98","#F48DBD","#F9C6DC","#FFFFFF","#E0F2F6","#BDE4EE","#94D6E6"]},"legend":null}}},
{"data":{"name":"st"},"transform":[{"flatten":["a"]},{"calculate":"datum.a+0.45","as":"b"}],"mark":{"type":"arc","outerRadius":166.5,"innerRadius":61,"fill":"#FFFFFF","opacity":0.5},"encoding":{"x":{"value":216},"y":{"value":210},"theta":{"field":"a","type":"quantitative","scale":{"domain":[0,360]}},"theta2":{"field":"b"}}},
{"data":{"name":"ring"},"mark":{"type":"arc","outerRadius":178,"innerRadius":168,"fill":"#B9B9B9"},"encoding":{"x":{"value":216},"y":{"value":210},"theta":{"field":"a","type":"quantitative","scale":{"domain":[0,360]}},"theta2":{"field":"b"}}},
{"data":{"name":"ring"},"mark":{"type":"arc","outerRadius":178.8,"innerRadius":178,"fill":"#444"},"encoding":{"x":{"value":216},"y":{"value":210},"theta":{"field":"a","type":"quantitative","scale":{"domain":[0,360]}},"theta2":{"field":"b"}}},
{"data":{"name":"tk"},"transform":[{"flatten":["a"]},{"calculate":"datum.a+0.5","as":"b"}],"mark":{"type":"arc","outerRadius":180.5,"innerRadius":178,"fill":"#444"},"encoding":{"x":{"value":216},"y":{"value":210},"theta":{"field":"a","type":"quantitative","scale":{"domain":[0,360]}},"theta2":{"field":"b"}}},
{"data":{"name":"gaps"},"mark":{"type":"arc","outerRadius":178,"innerRadius":61,"fill":"#FFFFFF"},"encoding":{"x":{"value":216},"y":{"value":210},"theta":{"field":"a","type":"quantitative","scale":{"domain":[0,360]}},"theta2":{"field":"b"}}},
{"data":{"name":"ch"},"transform":[{"flatten":["a","r"]},{"calculate":"datum.r*sin(datum.a*PI/180)","as":"x"},{"calculate":"-datum.r*cos(datum.a*PI/180)","as":"y"}],"mark":{"type":"line","interpolate":"basis","strokeWidth":2.4,"opacity":0.75},"encoding":{"x":{"field":"x","type":"quantitative","scale":{"domain":[-100,100],"range":[116,316]},"axis":null},"y":{"field":"y","type":"quantitative","scale":{"domain":[206,-210]},"axis":null},"detail":{"field":"c"},"order":{"value":null},"stroke":{"field":"k","type":"nominal","scale":{"domain":[0,1,2,3,4],"range":["#8E8478","#A89C8E","#8A8779","#9B8794","#A9A68A"]},"legend":null}}},
{"data":{"name":"nums"},"mark":{"type":"text","fontSize":13.5,"align":"center","baseline":"middle"},"encoding":{"x":{"value":216},"y":{"value":210},"theta":{"field":"a","type":"quantitative","scale":{"domain":[0,360]}},"radius":{"field":"e","type":"quantitative","scale":{"type":"linear","domain":[0,8],"range":[165,61],"zero":false}},"text":{"field":"t"}}},
{"data":{"name":"labs"},"transform":[{"calculate":"datum.a<=90?datum.a:datum.a<270?datum.a-180:datum.a-360","as":"ang"}],"mark":{"type":"text","fontSize":19.5,"align":"center","baseline":"middle"},"encoding":{"x":{"value":216},"y":{"value":210},"theta":{"field":"a","type":"quantitative","scale":{"domain":[0,360]}},"radius":{"field":"e","type":"quantitative","scale":{"type":"linear","domain":[0,8],"range":[165,61],"zero":false}},"angle":{"field":"ang","type":"quantitative","scale":null},"text":{"field":"t"}}},
{"data":{"values":[{"x":-198,"y":-187,"t":"B"}]},"mark":{"type":"text","fontSize":26,"align":"center","baseline":"middle"},"encoding":{"x":{"field":"x","type":"quantitative","scale":{"domain":[-100,100],"range":[116,316]},"axis":null},"y":{"field":"y","type":"quantitative","scale":{"domain":[206,-210]},"axis":null},"text":{"field":"t"}}}
]},
{"width":1,"height":1,"data":{"values":[]},"mark":"point"},
{"width":104,"height":416,"layer":[
{"data":{"name":"sp"},"transform":[{"calculate":"datum.a+2.05","as":"b"}],"mark":{"type":"arc","outerRadius":166.5,"innerRadius":61},"encoding":{"x":{"value":223},"y":{"value":210},"theta":{"field":"a","type":"quantitative","scale":{"domain":[0,360]}},"theta2":{"field":"b"},"color":{"field":"q","type":"ordinal","scale":{"domain":[3,2,1,0,-1,-2,-3],"range":["#EE3F98","#F48DBD","#F9C6DC","#FFFFFF","#DDF1F5","#A6DCE8","#7FCEE0"]},"legend":null}}},
{"data":{"name":"st"},"transform":[{"flatten":["a"]},{"calculate":"datum.a+0.45","as":"b"}],"mark":{"type":"arc","outerRadius":166.5,"innerRadius":61,"fill":"#FFFFFF","opacity":0.4},"encoding":{"x":{"value":223},"y":{"value":210},"theta":{"field":"a","type":"quantitative","scale":{"domain":[0,360]}},"theta2":{"field":"b"}}},
{"data":{"name":"ring"},"mark":{"type":"arc","outerRadius":178,"innerRadius":168,"fill":"#B9B9B9"},"encoding":{"x":{"value":223},"y":{"value":210},"theta":{"field":"a","type":"quantitative","scale":{"domain":[0,360]}},"theta2":{"field":"b"}}},
{"data":{"name":"ring"},"mark":{"type":"arc","outerRadius":178.8,"innerRadius":178,"fill":"#444"},"encoding":{"x":{"value":223},"y":{"value":210},"theta":{"field":"a","type":"quantitative","scale":{"domain":[0,360]}},"theta2":{"field":"b"}}},
{"data":{"name":"tk"},"transform":[{"flatten":["a"]},{"calculate":"datum.a+0.5","as":"b"}],"mark":{"type":"arc","outerRadius":180.5,"innerRadius":178,"fill":"#444"},"encoding":{"x":{"value":223},"y":{"value":210},"theta":{"field":"a","type":"quantitative","scale":{"domain":[0,360]}},"theta2":{"field":"b"}}},
{"data":{"name":"gaps"},"mark":{"type":"arc","outerRadius":178,"innerRadius":61,"fill":"#FFFFFF"},"encoding":{"x":{"value":223},"y":{"value":210},"theta":{"field":"a","type":"quantitative","scale":{"domain":[0,360]}},"theta2":{"field":"b"}}},
{"data":{"name":"ch"},"transform":[{"flatten":["a","r"]},{"calculate":"datum.r*sin(datum.a*PI/180)","as":"x"},{"calculate":"-datum.r*cos(datum.a*PI/180)","as":"y"}],"mark":{"type":"line","interpolate":"basis","strokeWidth":1.8,"opacity":0.75},"encoding":{"x":{"field":"x","type":"quantitative","scale":{"domain":[-100,100],"range":[123,323]},"axis":null},"y":{"field":"y","type":"quantitative","scale":{"domain":[206,-210]},"axis":null},"detail":{"field":"c"},"order":{"value":null},"stroke":{"field":"k","type":"nominal","scale":{"domain":[0,1,2,3,4],"range":["#8E8478","#A08C96","#8A8779","#9B8794","#A9A678"]},"legend":null}}},
{"data":{"name":"nums"},"mark":{"type":"text","fontSize":13.5,"align":"center","baseline":"middle"},"encoding":{"x":{"value":223},"y":{"value":210},"theta":{"field":"a","type":"quantitative","scale":{"domain":[0,360]}},"radius":{"field":"e","type":"quantitative","scale":{"type":"linear","domain":[0,8],"range":[165,61],"zero":false}},"text":{"field":"t"}}},
{"data":{"name":"labs"},"transform":[{"calculate":"datum.a<=90?datum.a:datum.a<270?datum.a-180:datum.a-360","as":"ang"}],"mark":{"type":"text","fontSize":19.5,"align":"center","baseline":"middle"},"encoding":{"x":{"value":223},"y":{"value":210},"theta":{"field":"a","type":"quantitative","scale":{"domain":[0,360]}},"radius":{"field":"e","type":"quantitative","scale":{"type":"linear","domain":[0,8],"range":[165,61],"zero":false}},"angle":{"field":"ang","type":"quantitative","scale":null},"text":{"field":"t"}}}
]},
{"width":1,"height":1,"data":{"values":[]},"mark":"point"},
{"width":92.7,"height":416,"layer":[
{"data":{"name":"sp"},"transform":[{"calculate":"datum.a+2.05","as":"b"}],"mark":{"type":"arc","outerRadius":166.5,"innerRadius":61},"encoding":{"x":{"value":227},"y":{"value":210},"theta":{"field":"a","type":"quantitative","scale":{"domain":[0,360]}},"theta2":{"field":"b"},"color":{"field":"r","type":"ordinal","scale":{"domain":[3,2,1,0,-1,-2,-3],"range":["#E0449A","#F48DBD","#F4C8DE","#FFFFFF","#C9E9F0","#A8DDE9","#8FD5E4"]},"legend":null}}},
{"data":{"values":[{"a":0,"b":360,"e":1,"e2":4,"v":-1},{"a":0,"b":360,"e":5,"e2":6,"v":-1},{"a":0,"b":360,"e":7,"e2":8,"v":-1}]},"mark":{"type":"arc","opacity":0.3},"encoding":{"x":{"value":227},"y":{"value":210},"theta":{"field":"a","type":"quantitative","scale":{"domain":[0,360]}},"theta2":{"field":"b"},"radius":{"field":"e","type":"quantitative","scale":{"type":"linear","domain":[0,8],"range":[165,61],"zero":false}},"radius2":{"field":"e2"},"color":{"field":"v","type":"ordinal","scale":{"domain":[3,2,1,0,-1,-2,-3],"range":["#E0449A","#F48DBD","#F4C8DE","#FFFFFF","#C9E9F0","#A8DDE9","#8FD5E4"]},"legend":null}}},
{"data":{"name":"st"},"transform":[{"flatten":["a"]},{"calculate":"datum.a+0.45","as":"b"}],"mark":{"type":"arc","outerRadius":166.5,"innerRadius":61,"fill":"#FFFFFF","opacity":0.22},"encoding":{"x":{"value":227},"y":{"value":210},"theta":{"field":"a","type":"quantitative","scale":{"domain":[0,360]}},"theta2":{"field":"b"}}},
{"data":{"values":[{"a":0,"b":360,"e":4,"e2":5,"v":-3},{"a":0,"b":360,"e":6,"e2":7,"v":-3}]},"mark":{"type":"arc"},"encoding":{"x":{"value":227},"y":{"value":210},"theta":{"field":"a","type":"quantitative","scale":{"domain":[0,360]}},"theta2":{"field":"b"},"radius":{"field":"e","type":"quantitative","scale":{"type":"linear","domain":[0,8],"range":[165,61],"zero":false}},"radius2":{"field":"e2"},"color":{"field":"v","type":"ordinal","scale":{"domain":[3,2,1,0,-1,-2,-3],"range":["#E0449A","#F48DBD","#F4C8DE","#FFFFFF","#C9E9F0","#A8DDE9","#8FD5E4"]},"legend":null}}},
{"data":{"values":[{"a":32,"b":38,"e":3,"e2":4,"v":0},{"a":30,"b":38,"e":1,"e2":2,"v":0},{"a":33,"b":38,"e":5.5,"e2":6,"v":1},{"a":31,"b":37,"e":7,"e2":8,"v":0},{"a":166,"b":174,"e":5,"e2":6,"v":2},{"a":164,"b":172,"e":7,"e2":7.8,"v":1},{"a":160,"b":178,"e":3,"e2":4,"v":0},{"a":165,"b":178,"e":1,"e2":2,"v":0},{"a":125,"b":135,"e":3,"e2":4,"v":0}]},"mark":{"type":"arc","opacity":0.55},"encoding":{"x":{"value":227},"y":{"value":210},"theta":{"field":"a","type":"quantitative","scale":{"domain":[0,360]}},"theta2":{"field":"b"},"radius":{"field":"e","type":"quantitative","scale":{"type":"linear","domain":[0,8],"range":[165,61],"zero":false}},"radius2":{"field":"e2"},"color":{"field":"v","type":"ordinal","scale":{"domain":[3,2,1,0,-1,-2,-3],"range":["#E0449A","#F48DBD","#F4C8DE","#FFFFFF","#C9E9F0","#A8DDE9","#8FD5E4"]},"legend":null}}},
{"data":{"values":[{"a":238,"b":239,"e":0.8,"e2":1.5,"v":3},{"a":238,"b":239,"e":3,"e2":3.7,"v":3},{"a":238,"b":239,"e":5,"e2":5.6,"v":3},{"a":238,"b":239,"e":7,"e2":7.5,"v":2},{"a":285,"b":286,"e":1,"e2":1.6,"v":0},{"a":285,"b":286,"e":3,"e2":3.6,"v":2},{"a":285,"b":286,"e":5,"e2":5.6,"v":2},{"a":285,"b":286,"e":7,"e2":7.4,"v":1}]},"mark":{"type":"arc"},"encoding":{"x":{"value":227},"y":{"value":210},"theta":{"field":"a","type":"quantitative","scale":{"domain":[0,360]}},"theta2":{"field":"b"},"radius":{"field":"e","type":"quantitative","scale":{"type":"linear","domain":[0,8],"range":[165,61],"zero":false}},"radius2":{"field":"e2"},"color":{"field":"v","type":"ordinal","scale":{"domain":[3,2,1,0,-1,-2,-3],"range":["#E0449A","#F48DBD","#F4C8DE","#FFFFFF","#C9E9F0","#A8DDE9","#8FD5E4"]},"legend":null}}},
{"data":{"name":"ring"},"mark":{"type":"arc","outerRadius":178,"innerRadius":168,"fill":"#B9B9B9"},"encoding":{"x":{"value":227},"y":{"value":210},"theta":{"field":"a","type":"quantitative","scale":{"domain":[0,360]}},"theta2":{"field":"b"}}},
{"data":{"name":"ring"},"mark":{"type":"arc","outerRadius":178.8,"innerRadius":178,"fill":"#444"},"encoding":{"x":{"value":227},"y":{"value":210},"theta":{"field":"a","type":"quantitative","scale":{"domain":[0,360]}},"theta2":{"field":"b"}}},
{"data":{"name":"tk"},"transform":[{"flatten":["a"]},{"calculate":"datum.a+0.5","as":"b"}],"mark":{"type":"arc","outerRadius":180.5,"innerRadius":178,"fill":"#444"},"encoding":{"x":{"value":227},"y":{"value":210},"theta":{"field":"a","type":"quantitative","scale":{"domain":[0,360]}},"theta2":{"field":"b"}}},
{"data":{"name":"gaps"},"mark":{"type":"arc","outerRadius":178,"innerRadius":61,"fill":"#FFFFFF"},"encoding":{"x":{"value":227},"y":{"value":210},"theta":{"field":"a","type":"quantitative","scale":{"domain":[0,360]}},"theta2":{"field":"b"}}},
{"data":{"name":"ch"},"transform":[{"flatten":["a","r"]},{"calculate":"datum.r*sin(datum.a*PI/180)","as":"x"},{"calculate":"-datum.r*cos(datum.a*PI/180)","as":"y"}],"mark":{"type":"line","interpolate":"basis","strokeWidth":1.5,"opacity":0.8},"encoding":{"x":{"field":"x","type":"quantitative","scale":{"domain":[-100,100],"range":[127,327]},"axis":null},"y":{"field":"y","type":"quantitative","scale":{"domain":[206,-210]},"axis":null},"detail":{"field":"c"},"order":{"value":null},"stroke":{"field":"k","type":"nominal","scale":{"domain":[0,1,2,3,4],"range":["#8E8478","#B08C96","#7E9070","#9B7F9C","#A9A060"]},"legend":null}}},
{"data":{"name":"nums"},"mark":{"type":"text","fontSize":13.5,"align":"center","baseline":"middle"},"encoding":{"x":{"value":227},"y":{"value":210},"theta":{"field":"a","type":"quantitative","scale":{"domain":[0,360]}},"radius":{"field":"e","type":"quantitative","scale":{"type":"linear","domain":[0,8],"range":[165,61],"zero":false}},"text":{"field":"t"}}},
{"data":{"name":"labs"},"transform":[{"calculate":"datum.a<=90?datum.a:datum.a<270?datum.a-180:datum.a-360","as":"ang"}],"mark":{"type":"text","fontSize":19.5,"align":"center","baseline":"middle"},"encoding":{"x":{"value":227},"y":{"value":210},"theta":{"field":"a","type":"quantitative","scale":{"domain":[0,360]}},"radius":{"field":"e","type":"quantitative","scale":{"type":"linear","domain":[0,8],"range":[165,61],"zero":false}},"angle":{"field":"ang","type":"quantitative","scale":null},"text":{"field":"t"}}}
]},
{"width":1,"height":1,"data":{"values":[]},"mark":"point"},

{"width":101,"height":146,"encoding":{"x":{"field":"x","type":"quantitative","scale":{"domain":[0,101]},"axis":null},"y":{"field":"y","type":"quantitative","scale":{"domain":[987,841]},"axis":null}},"layer":[
{"data":{"values":[{"x":39,"y":906,"t":"1: ES12 18°C"},{"x":162,"y":906,"t":"2: ES12 28°C"},{"x":287,"y":906,"t":"3: ICE2 18°C"},{"x":403,"y":906,"t":"4: ICE2 28°C"},{"x":521,"y":906,"t":"5: IT4 18°C"},{"x":625,"y":906,"t":"6: IT4 28°C"},{"x":727,"y":906,"t":"7: NOR2 18°C"},{"x":859,"y":906,"t":"8: NOR2 28°C"}]},"mark":{"type":"text","fontSize":18.7,"align":"left","baseline":"middle"},"encoding":{"text":{"field":"t"}}},
{"data":{"values":[{"x":1055,"y":881,"t":"Scale:"},{"x":1145,"y":860,"t":"6Mbp"},{"x":1113,"y":912,"t":"High"},{"x":1184,"y":914,"t":"Low"},{"x":1035,"y":937,"t":"Methylation:"}]},"mark":{"type":"text","fontSize":18.7,"align":"center","baseline":"middle"},"encoding":{"text":{"field":"t"}}},
{"data":{"values":[{"x":19,"y":965,"t":"C"},{"x":427,"y":965,"t":"D"},{"x":822,"y":965,"t":"E"}]},"mark":{"type":"text","fontSize":26,"align":"center","baseline":"middle"},"encoding":{"text":{"field":"t"}}},
{"data":{"values":[{"g":1,"x":[1126,1158],"y":[885,885]},{"g":2,"x":[1126,1126],"y":[878,892]},{"g":3,"x":[1158,1158],"y":[878,892]}]},"transform":[{"flatten":["x","y"]}],"mark":{"type":"line","stroke":"#000","strokeWidth":2.5},"encoding":{"detail":{"field":"g"},"order":{"value":null}}},
{"data":{"values":[{"x":1111,"x1":1121,"y":926,"y1":945,"v":3},{"x":1121,"x1":1132,"y":926,"y1":945,"v":2},{"x":1132,"x1":1142,"y":926,"y1":945,"v":1},{"x":1142,"x1":1152,"y":926,"y1":945,"v":0},{"x":1152,"x1":1163,"y":926,"y1":945,"v":-1},{"x":1163,"x1":1173,"y":926,"y1":945,"v":-2},{"x":1173,"x1":1183,"y":926,"y1":945,"v":-3}]},"mark":{"type":"rect","stroke":"#333","strokeWidth":1},"encoding":{"x2":{"field":"x1"},"y2":{"field":"y1"},"color":{"field":"v","type":"ordinal","scale":{"domain":[3,2,1,0,-1,-2,-3],"range":["#EC008C","#F47AB0","#F9B8D3","#FFFFFF","#D9F0F4","#A9DCE6","#4CC3DC"]},"legend":null}}}
]},
{"width":1,"height":1,"data":{"values":[]},"mark":"point"},
{"width":1,"height":1,"data":{"values":[]},"mark":"point"},
{"width":1,"height":1,"data":{"values":[]},"mark":"point"},
{"width":1,"height":1,"data":{"values":[]},"mark":"point"},
{"width":1,"height":1,"data":{"values":[]},"mark":"point"},

{"width":101,"height":1,"data":{"values":[]},"mark":"point"},
{"width":302,"height":307,"layer":[
{"data":{"values":[{"x":0,"a":0.435,"b":0.449,"c":0.175,"d":0.204,"e":0.018,"f":0.025},{"x":9,"a":0.433,"b":0.447,"c":0.176,"d":0.203,"e":0.018,"f":0.025},{"x":20,"a":0.431,"b":0.443,"c":0.178,"d":0.206,"e":0.018,"f":0.025},{"x":34,"a":0.418,"b":0.431,"c":0.18,"d":0.21,"e":0.018,"f":0.026},{"x":49,"a":0.403,"b":0.416,"c":0.181,"d":0.212,"e":0.019,"f":0.026},{"x":63,"a":0.401,"b":0.415,"c":0.186,"d":0.216,"e":0.019,"f":0.028},{"x":76,"a":0.394,"b":0.405,"c":0.191,"d":0.221,"e":0.02,"f":0.029},{"x":81,"a":0.38,"b":0.388,"c":0.184,"d":0.211,"e":0.019,"f":0.029},{"x":87,"a":0.34,"b":0.345,"c":0.163,"d":0.186,"e":0.016,"f":0.025},{"x":92,"a":0.285,"b":0.285,"c":0.14,"d":0.157,"e":0.013,"f":0.019},{"x":96,"a":0.23,"b":0.23,"c":0.1,"d":0.115,"e":0.011,"f":0.014},{"x":100,"a":0.197,"b":0.2,"c":0.087,"d":0.095,"e":0.01,"f":0.013},{"x":105,"a":0.238,"b":0.24,"c":0.08,"d":0.092,"e":0.01,"f":0.013},{"x":110,"a":0.32,"b":0.325,"c":0.078,"d":0.091,"e":0.01,"f":0.013},{"x":117,"a":0.4,"b":0.413,"c":0.08,"d":0.093,"e":0.011,"f":0.014},{"x":128,"a":0.447,"b":0.46,"c":0.084,"d":0.1,"e":0.011,"f":0.014},{"x":144,"a":0.483,"b":0.498,"c":0.087,"d":0.103,"e":0.011,"f":0.014},{"x":153,"a":0.48,"b":0.492,"c":0.087,"d":0.103,"e":0.011,"f":0.014},{"x":164,"a":0.459,"b":0.47,"c":0.085,"d":0.1,"e":0.011,"f":0.014},{"x":173,"a":0.42,"b":0.425,"c":0.083,"d":0.098,"e":0.011,"f":0.014},{"x":182,"a":0.34,"b":0.34,"c":0.082,"d":0.094,"e":0.01,"f":0.013},{"x":190,"a":0.25,"b":0.25,"c":0.079,"d":0.093,"e":0.01,"f":0.013},{"x":195,"a":0.2,"b":0.2,"c":0.093,"d":0.107,"e":0.011,"f":0.014},{"x":200,"a":0.26,"b":0.265,"c":0.134,"d":0.16,"e":0.015,"f":0.02},{"x":208,"a":0.34,"b":0.35,"c":0.163,"d":0.2,"e":0.019,"f":0.027},{"x":217,"a":0.388,"b":0.4,"c":0.186,"d":0.22,"e":0.02,"f":0.029},{"x":224,"a":0.403,"b":0.416,"c":0.191,"d":0.223,"e":0.02,"f":0.029},{"x":240,"a":0.403,"b":0.416,"c":0.186,"d":0.217,"e":0.019,"f":0.028},{"x":251,"a":0.412,"b":0.424,"c":0.183,"d":0.212,"e":0.018,"f":0.026},{"x":266,"a":0.425,"b":0.44,"c":0.18,"d":0.21,"e":0.018,"f":0.025},{"x":276,"a":0.431,"b":0.445,"c":0.176,"d":0.205,"e":0.018,"f":0.025},{"x":294,"a":0.441,"b":0.455,"c":0.175,"d":0.203,"e":0.018,"f":0.025}]},"transform":[{"fold":["a","b","c","d","e","f"]}],"mark":{"type":"line","strokeWidth":2.5,"interpolate":"monotone"},"encoding":{"x":{"field":"x","type":"quantitative","scale":{"domain":[-15.2,313],"nice":false},"axis":{"values":[0,100,200,300],"labelExpr":"datum.value==0?'-2000':datum.value==300?'2000':''","title":null,"grid":false,"domainWidth":4,"domainColor":"#000","tickColor":"#000","tickWidth":3.5,"tickSize":6,"labelFontSize":17,"labelPadding":13,"labelFont":"Liberation Sans","labelColor":"#1a1a1a","labelOverlap":false,"labelFlush":false}},"y":{"field":"value","type":"quantitative","scale":{"domain":[-0.014,0.5258],"nice":false},"axis":{"values":[0,0.1,0.2,0.3,0.4,0.5],"format":".1f","grid":false,"domainWidth":4,"domainColor":"#000","tickColor":"#000","tickWidth":3.5,"tickSize":6,"labelFontSize":17,"labelPadding":6,"labelFont":"Liberation Sans","labelColor":"#1a1a1a","title":"Methylation level","titleFont":"Liberation Sans","titleFontSize":20.5,"titleFontWeight":"normal","titleColor":"#1a1a1a","titleX":-58,"titleY":158,"titleAlign":"center","titleBaseline":"middle"}},"color":{"field":"key","type":"nominal","scale":{"domain":["a","b","c","d","e","f"],"range":["#1F4E96","#0E9DB5","#ED1C24","#8E5BA6","#3CB44A","#F7A98E"]},"legend":null}}},
{"data":{"values":[{"x":63.6,"t":"Transcription\nstart site"},{"x":170.6,"t":"Transcription\ntermination site"}]},"mark":{"type":"text","fontSize":18,"angle":315,"align":"center","baseline":"middle","lineBreak":"\n","lineHeight":24},"encoding":{"x":{"field":"x","type":"quantitative","scale":{"domain":[-15.2,313],"nice":false}},"y":{"value":358.5},"text":{"field":"t"}}}
]},
{"width":104,"height":1,"data":{"values":[]},"mark":"point"},
{"width":301,"height":307,"layer":[
{"data":{"values":[{"x":0,"a":0.586,"b":0.61,"c":0.333,"d":0.385,"e":0.027,"f":0.036},{"x":17,"a":0.591,"b":0.614,"c":0.339,"d":0.392,"e":0.027,"f":0.037},{"x":35,"a":0.595,"b":0.617,"c":0.352,"d":0.403,"e":0.028,"f":0.037},{"x":50,"a":0.606,"b":0.627,"c":0.364,"d":0.415,"e":0.029,"f":0.039},{"x":64,"a":0.619,"b":0.642,"c":0.381,"d":0.432,"e":0.03,"f":0.04},{"x":75,"a":0.63,"b":0.653,"c":0.39,"d":0.449,"e":0.03,"f":0.041},{"x":84,"a":0.653,"b":0.678,"c":0.411,"d":0.479,"e":0.032,"f":0.044},{"x":95,"a":0.697,"b":0.725,"c":0.442,"d":0.514,"e":0.037,"f":0.052},{"x":100,"a":0.699,"b":0.729,"c":0.445,"d":0.518,"e":0.039,"f":0.054},{"x":108,"a":0.703,"b":0.732,"c":0.439,"d":0.515,"e":0.038,"f":0.054},{"x":115,"a":0.692,"b":0.723,"c":0.432,"d":0.508,"e":0.038,"f":0.053},{"x":122,"a":0.696,"b":0.727,"c":0.436,"d":0.513,"e":0.037,"f":0.052},{"x":133,"a":0.691,"b":0.723,"c":0.43,"d":0.506,"e":0.037,"f":0.051},{"x":144,"a":0.688,"b":0.721,"c":0.427,"d":0.502,"e":0.037,"f":0.051},{"x":158,"a":0.691,"b":0.725,"c":0.432,"d":0.506,"e":0.037,"f":0.051},{"x":169,"a":0.697,"b":0.731,"c":0.435,"d":0.51,"e":0.038,"f":0.052},{"x":180,"a":0.693,"b":0.725,"c":0.435,"d":0.51,"e":0.038,"f":0.053},{"x":191,"a":0.698,"b":0.731,"c":0.445,"d":0.521,"e":0.039,"f":0.054},{"x":200,"a":0.697,"b":0.728,"c":0.439,"d":0.513,"e":0.038,"f":0.053},{"x":207,"a":0.669,"b":0.695,"c":0.408,"d":0.483,"e":0.033,"f":0.046},{"x":216,"a":0.636,"b":0.657,"c":0.381,"d":0.445,"e":0.03,"f":0.041},{"x":229,"a":0.614,"b":0.638,"c":0.367,"d":0.428,"e":0.029,"f":0.039},{"x":242,"a":0.61,"b":0.633,"c":0.353,"d":0.415,"e":0.028,"f":0.038},{"x":260,"a":0.599,"b":0.621,"c":0.339,"d":0.398,"e":0.027,"f":0.037},{"x":278,"a":0.596,"b":0.614,"c":0.333,"d":0.388,"e":0.027,"f":0.036},{"x":295,"a":0.585,"b":0.608,"c":0.329,"d":0.383,"e":0.027,"f":0.036}]},"transform":[{"fold":["a","b","c","d","e","f"]}],"mark":{"type":"line","strokeWidth":2.5,"interpolate":"monotone"},"encoding":{"x":{"field":"x","type":"quantitative","scale":{"domain":[-14.9,311.6],"nice":false},"axis":{"values":[0,100,200,300],"labelExpr":"datum.value==0?'-2000':datum.value==300?'2000':''","title":null,"grid":false,"domainWidth":4,"domainColor":"#000","tickColor":"#000","tickWidth":3.5,"tickSize":6,"labelFontSize":17,"labelPadding":13,"labelFont":"Liberation Sans","labelColor":"#1a1a1a","labelOverlap":false,"labelFlush":false}},"y":{"field":"value","type":"quantitative","scale":{"domain":[-0.006,0.7746],"nice":false},"axis":{"values":[0,0.2,0.4,0.6],"format":".1f","grid":false,"domainWidth":4,"domainColor":"#000","tickColor":"#000","tickWidth":3.5,"tickSize":6,"labelFontSize":17,"labelPadding":6,"labelFont":"Liberation Sans","labelColor":"#1a1a1a","title":"Methylation level","titleFont":"Liberation Sans","titleFontSize":20.5,"titleFontWeight":"normal","titleColor":"#1a1a1a","titleX":-62,"titleY":148,"titleAlign":"center","titleBaseline":"middle"}},"color":{"field":"key","type":"nominal","scale":{"domain":["a","b","c","d","e","f"],"range":["#1F4E96","#0E9DB5","#ED1C24","#8E5BA6","#3CB44A","#F7A98E"]},"legend":null}}},
{"data":{"values":[{"x":74.1,"t":"Repetitive\nelement\nstart site"},{"x":177.1,"t":"Repetitive\nelement\ntermination site"}]},"mark":{"type":"text","fontSize":18,"angle":315,"align":"center","baseline":"middle","lineBreak":"\n","lineHeight":22},"encoding":{"x":{"field":"x","type":"quantitative","scale":{"domain":[-14.9,311.6],"nice":false}},"y":{"value":349.5},"text":{"field":"t"}}}
]},
{"width":92.7,"height":1,"data":{"values":[]},"mark":"point"},
{"width":301.3,"height":308,"layer":[
{"data":{"values":[{"x":0,"a":0.589,"b":0.612,"c":0.322,"d":0.375,"e":0.025,"f":0.035},{"x":6.5,"a":0.593,"b":0.617,"c":0.331,"d":0.385,"e":0.025,"f":0.035},{"x":21,"a":0.593,"b":0.618,"c":0.332,"d":0.387,"e":0.025,"f":0.035},{"x":35.4,"a":0.596,"b":0.62,"c":0.341,"d":0.395,"e":0.026,"f":0.036},{"x":50,"a":0.606,"b":0.633,"c":0.353,"d":0.408,"e":0.026,"f":0.036},{"x":64.4,"a":0.618,"b":0.647,"c":0.373,"d":0.433,"e":0.027,"f":0.037},{"x":79,"a":0.646,"b":0.675,"c":0.387,"d":0.454,"e":0.028,"f":0.04},{"x":88,"a":0.662,"b":0.69,"c":0.404,"d":0.47,"e":0.03,"f":0.043},{"x":95,"a":0.677,"b":0.705,"c":0.42,"d":0.491,"e":0.032,"f":0.047},{"x":105,"a":0.644,"b":0.671,"c":0.378,"d":0.439,"e":0.028,"f":0.038},{"x":115,"a":0.641,"b":0.669,"c":0.373,"d":0.434,"e":0.028,"f":0.037},{"x":126,"a":0.633,"b":0.66,"c":0.359,"d":0.423,"e":0.027,"f":0.036},{"x":137,"a":0.636,"b":0.662,"c":0.355,"d":0.414,"e":0.027,"f":0.036},{"x":151,"a":0.638,"b":0.665,"c":0.36,"d":0.419,"e":0.027,"f":0.037},{"x":165,"a":0.638,"b":0.664,"c":0.366,"d":0.429,"e":0.027,"f":0.036},{"x":176,"a":0.647,"b":0.673,"c":0.374,"d":0.435,"e":0.027,"f":0.037},{"x":181,"a":0.642,"b":0.669,"c":0.374,"d":0.437,"e":0.028,"f":0.037},{"x":187,"a":0.65,"b":0.677,"c":0.383,"d":0.449,"e":0.028,"f":0.038},{"x":192,"a":0.652,"b":0.678,"c":0.393,"d":0.462,"e":0.029,"f":0.039},{"x":200,"a":0.678,"b":0.708,"c":0.42,"d":0.493,"e":0.033,"f":0.047},{"x":207,"a":0.654,"b":0.682,"c":0.399,"d":0.466,"e":0.03,"f":0.044},{"x":218,"a":0.635,"b":0.662,"c":0.383,"d":0.441,"e":0.027,"f":0.04},{"x":232,"a":0.621,"b":0.646,"c":0.362,"d":0.42,"e":0.026,"f":0.037},{"x":247,"a":0.607,"b":0.632,"c":0.348,"d":0.406,"e":0.026,"f":0.036},{"x":261,"a":0.596,"b":0.62,"c":0.338,"d":0.395,"e":0.025,"f":0.036},{"x":278,"a":0.597,"b":0.622,"c":0.332,"d":0.388,"e":0.025,"f":0.035},{"x":287,"a":0.595,"b":0.619,"c":0.334,"d":0.391,"e":0.025,"f":0.035},{"x":295,"a":0.589,"b":0.612,"c":0.322,"d":0.375,"e":0.025,"f":0.035}]},"transform":[{"fold":["a","b","c","d","e","f"]}],"mark":{"type":"line","strokeWidth":2.5},"encoding":{"x":{"field":"x","type":"quantitative","scale":{"domain":[-14.4,312.8],"nice":false},"axis":{"values":[0,100,200,300],"labelExpr":"datum.value==0?'-2000':datum.value==300?'2000':''","title":null,"grid":false,"domainWidth":4,"domainColor":"#000","tickColor":"#000","tickWidth":3.5,"tickSize":6,"labelFontSize":17,"labelPadding":13,"labelFont":"Liberation Sans","labelColor":"#1a1a1a","labelOverlap":false,"labelFlush":false}},"y":{"field":"value","type":"quantitative","scale":{"domain":[-0.006,0.7486],"range":[308,7],"nice":false},"axis":{"values":[0,0.2,0.4,0.6],"format":".1f","grid":false,"domainWidth":4,"domainColor":"#000","tickColor":"#000","tickWidth":3.5,"tickSize":6,"labelFontSize":17,"labelPadding":6,"labelFont":"Liberation Sans","labelColor":"#1a1a1a","title":"Methylation level","titleFont":"Liberation Sans","titleFontSize":20.5,"titleFontWeight":"normal","titleColor":"#1a1a1a","titleX":-58,"titleY":148,"titleAlign":"center","titleBaseline":"middle"}},"color":{"field":"key","type":"nominal","scale":{"domain":["a","b","c","d","e","f"],"range":["#1F4E96","#0E9DB5","#ED1C24","#8E5BA6","#3CB44A","#F7A98E"]},"legend":null}}},
{"data":{"values":[{"x":64,"t":"Pseudogene\nstart site"},{"x":165,"t":"Pseudogene\ntermination site"}]},"mark":{"type":"text","fontSize":18,"angle":315,"align":"center","baseline":"middle","lineBreak":"\n","lineHeight":24},"encoding":{"x":{"field":"x","type":"quantitative","scale":{"domain":[-14.4,312.8],"nice":false}},"y":{"value":360},"text":{"field":"t"}}}
]},

{"width":101,"height":154,"encoding":{"x":{"field":"x","type":"quantitative","scale":{"domain":[0,101]},"axis":null},"y":{"field":"y","type":"quantitative","scale":{"domain":[1449,1295]},"axis":null}},"layer":[
{"data":{"values":[{"k":"a","x":[102,130],"y":[1438,1438]},{"k":"b","x":[236,264],"y":[1438,1438]},{"k":"c","x":[379,407],"y":[1438,1438]},{"k":"d","x":[512,540],"y":[1438,1438]},{"k":"e","x":[650,678],"y":[1438,1438]},{"k":"f","x":[783,811],"y":[1438,1438]}]},"transform":[{"flatten":["x","y"]}],"mark":{"type":"line","strokeWidth":2.5},"encoding":{"color":{"field":"k","type":"nominal","scale":{"domain":["a","b","c","d","e","f"],"range":["#1F4E96","#0E9DB5","#ED1C24","#8E5BA6","#3CB44A","#F7A98E"]},"legend":null}}},
{"data":{"values":[{"x":142,"y":1438,"t":"18°C-CGN"},{"x":275,"y":1438,"t":"28°C-CGN"},{"x":420,"y":1438,"t":"18°C-CHG"},{"x":553,"y":1438,"t":"28°C-CHG"},{"x":691,"y":1438,"t":"18°C-CHH"},{"x":824,"y":1438,"t":"28°C-CHH"}]},"mark":{"type":"text","fontSize":16.5,"align":"left","baseline":"middle"},"encoding":{"text":{"field":"t"}}}
]},
{"width":1,"height":1,"data":{"values":[]},"mark":"point"},
{"width":1,"height":1,"data":{"values":[]},"mark":"point"},
{"width":1,"height":1,"data":{"values":[]},"mark":"point"},
{"width":1,"height":1,"data":{"values":[]},"mark":"point"},
{"width":1,"height":1,"data":{"values":[]},"mark":"point"}
]}
